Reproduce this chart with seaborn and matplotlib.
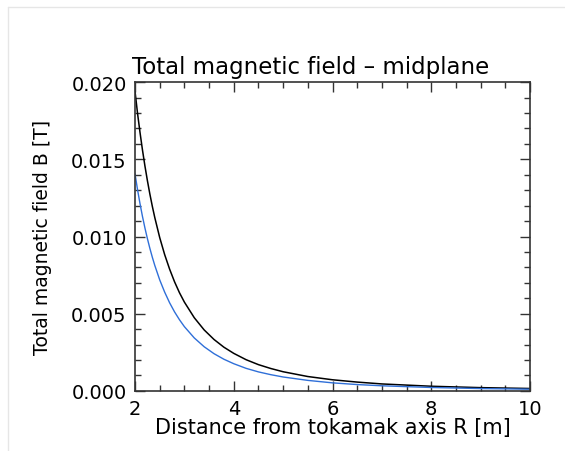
"""Total magnetic field along the midplane vs distance from tokamak axis."""

import matplotlib

matplotlib.use("Agg")
import matplotlib.pyplot as plt
import pandas as pd
import seaborn as sns
from matplotlib.lines import Line2D
from matplotlib.ticker import FormatStrFormatter, MultipleLocator

# values
R_M = [2.0, 2.05, 2.1, 2.15, 2.2, 2.25, 2.3, 2.35, 2.4, 2.5, 2.6, 2.7, 2.8,
       2.9, 3.0, 3.2, 3.4, 3.6, 3.8, 4.0, 4.25, 4.5, 4.75, 5.0, 5.5, 6.0,
       6.5, 7.0, 8.0, 9.0, 10.0]
B_BLACK = [0.0194, 0.0180, 0.01676, 0.01562, 0.01458, 0.01363, 0.01276,
           0.01196, 0.01123, 0.00993, 0.00883, 0.00789, 0.00707, 0.00636,
           0.00575, 0.00474, 0.00395, 0.00333, 0.00283, 0.00243, 0.00202,
           0.00170, 0.00145, 0.00124, 0.00093, 0.00072, 0.00057, 0.00045,
           0.00030, 0.00021, 0.000155]
B_BLUE = [0.01405, 0.01305, 0.01214, 0.01131, 0.01056, 0.00987, 0.00924,
          0.00866, 0.00813, 0.00719, 0.00640, 0.00571, 0.00512, 0.00461,
          0.00416, 0.00343, 0.00286, 0.00241, 0.00205, 0.00176, 0.00146,
          0.00123, 0.00105, 0.00090, 0.00068, 0.00052, 0.00041, 0.00033,
          0.00022, 0.00015, 0.00011]

TITLE = "Total magnetic field \u2013 midplane"
XLABEL = "Distance from tokamak axis R [m]"
YLABEL = "Total magnetic field B [T]"


def main() -> int:
    sns.set_theme(style="ticks")
    plt.rcParams["font.family"] = ["DejaVu Sans"]

    df = pd.DataFrame({"R": R_M, "black": B_BLACK, "blue": B_BLUE})

    fig = plt.figure(figsize=(5.65, 4.52), dpi=100)
    ax = fig.add_axes([0.239, 0.133, 0.699, 0.683])

    sns.lineplot(data=df, x="R", y="black", color="black", linewidth=1.1, ax=ax)
    sns.lineplot(data=df, x="R", y="blue", color="#2f6fd8", linewidth=1.0, ax=ax)

    ax.set_xlim(2, 10)
    ax.set_ylim(0, 0.020)
    ax.xaxis.set_major_locator(MultipleLocator(2))
    ax.xaxis.set_minor_locator(MultipleLocator(0.5))
    ax.yaxis.set_major_locator(MultipleLocator(0.005))
    ax.yaxis.set_minor_locator(MultipleLocator(0.001))
    ax.yaxis.set_major_formatter(FormatStrFormatter("%.3f"))

    ax.tick_params(which="both", direction="in", top=True, right=True,
                   colors="#333333", labelcolor="black", labelsize=14, width=1)
    ax.tick_params(which="major", length=7, pad=6)
    ax.tick_params(which="minor", length=4)
    for sp in ax.spines.values():
        sp.set_color("#333333")
        sp.set_linewidth(1.2)

    ax.set_xlabel(XLABEL, fontsize=15, color="black", labelpad=-1)
    ax.set_ylabel(YLABEL, fontsize=13.5, color="black", labelpad=14)
    # title sits a little left of the axes centre in the reference
    fig.text(311 / 565, 1 - 74 / 452, TITLE, fontsize=16.5, color="black",
             ha="center", va="baseline")

    # faint outer frame seen in the reference
    fig.add_artist(Line2D([8 / 565, 1], [1 - 8 / 452, 1 - 8 / 452],
                          transform=fig.transFigure, color="#e6e6e6", lw=1))
    fig.add_artist(Line2D([8 / 565, 8 / 565], [0, 1 - 8 / 452],
                          transform=fig.transFigure, color="#e6e6e6", lw=1))

    fig.savefig("out.png", dpi=100)
    plt.close(fig)
    return 0


if __name__ == "__main__":
    raise SystemExit(main())
